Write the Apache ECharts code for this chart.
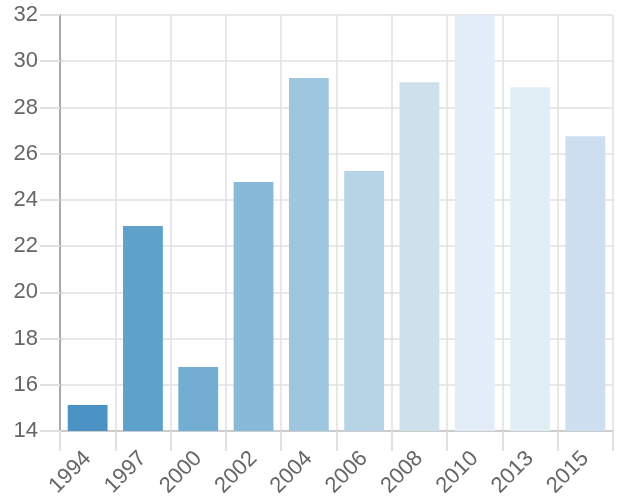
<!DOCTYPE html>
<html><head><meta charset="utf-8">
<script src="https://cdn.jsdelivr.net/npm/echarts@6/dist/echarts.min.js"></script>
<style>html,body{margin:0;padding:0;background:#fff}#c{width:620px;height:500px}</style>
</head><body><div id="c"></div>
<script>
const categories = ['1994','1997','2000','2002','2004','2006','2008','2010','2013','2015'];
const values = [15.12, 22.87, 16.77, 24.77, 29.27, 25.25, 29.09, 32, 28.87, 26.75];
const colors = ['#4a93c4','#5ea1cb','#73add2','#88b9d9','#9fc6df','#b6d4e6','#cce1ec','#e2edf7','#e2eef6','#cddef0'];
const yTicks = {min: 14, max: 32, interval: 2};

const chart = echarts.init(document.getElementById('c'));
chart.setOption({
  animation: false,
  grid: {left: 60, right: 7, top: 15, bottom: 69},
  xAxis: {
    type: 'category',
    data: categories,
    boundaryGap: true,
    axisLine: {show: true, lineStyle: {color: '#cccccc', width: 2}},
    axisTick: {show: true, length: 20, lineStyle: {color: '#e0e0e0', width: 2}},
    splitLine: {show: true, lineStyle: {color: '#e0e0e0', width: 1.5}},
    axisLabel: {rotate: 45, color: '#666', fontSize: 22, fontFamily: 'Liberation Sans', margin: 24}
  },
  yAxis: {
    type: 'value',
    min: yTicks.min, max: yTicks.max, interval: yTicks.interval,
    axisLine: {show: true, lineStyle: {color: '#aaaaaa', width: 2}},
    axisTick: {show: true, length: 20, lineStyle: {color: '#e0e0e0', width: 2}},
    splitLine: {show: true, lineStyle: {color: '#e0e0e0', width: 1.5}},
    axisLabel: {color: '#666', fontSize: 22, fontFamily: 'Liberation Sans', margin: 22}
  },
  series: [{
    type: 'bar',
    barCategoryGap: '28%',
    data: values.map((v, i) => ({value: v, itemStyle: {color: colors[i]}}))
  }]
});
</script></body></html>
